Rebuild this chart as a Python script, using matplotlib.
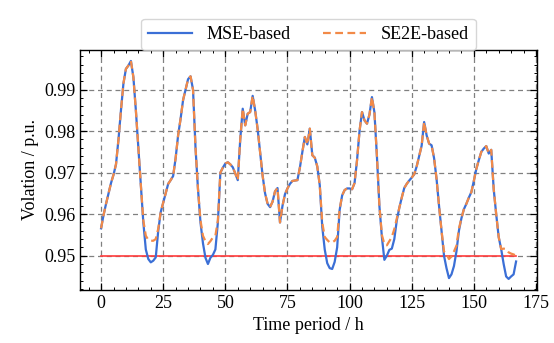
import matplotlib
matplotlib.use("Agg")
import matplotlib.pyplot as plt
from matplotlib.ticker import MultipleLocator
import numpy as np

# Hourly voltage over one week (168 h)
hours = np.arange(168)

mse_based = [
    0.9566, 0.9598, 0.9625, 0.9650, 0.9675, 0.9695, 0.9720, 0.9780, 0.9850, 0.9915,
    0.9950, 0.9958, 0.9969, 0.9930, 0.9850, 0.9760, 0.9670, 0.9580, 0.9515, 0.9492,
    0.9484, 0.9488, 0.9496, 0.9560, 0.9605, 0.9628, 0.9652, 0.9673, 0.9682, 0.9692,
    0.9735, 0.9790, 0.9830, 0.9875, 0.9900, 0.9925, 0.9932, 0.9900, 0.9760, 0.9660,
    0.9580, 0.9530, 0.9495, 0.9480, 0.9495, 0.9502, 0.9515, 0.9580, 0.9700, 0.9712,
    0.9722, 0.9725, 0.9720, 0.9713, 0.9698, 0.9682, 0.9780, 0.9854, 0.9814, 0.9842,
    0.9846, 0.9885, 0.9850, 0.9805, 0.9750, 0.9693, 0.9650, 0.9625, 0.9617, 0.9630,
    0.9655, 0.9663, 0.9580, 0.9620, 0.9648, 0.9662, 0.9673, 0.9680, 0.9681, 0.9682,
    0.9712, 0.9750, 0.9786, 0.9768, 0.9806, 0.9742, 0.9736, 0.9715, 0.9670, 0.9570,
    0.9515, 0.9482, 0.9470, 0.9468, 0.9485, 0.9520, 0.9610, 0.9645, 0.9658, 0.9662,
    0.9662, 0.9660, 0.9675, 0.9730, 0.9800, 0.9846, 0.9826, 0.9818, 0.9840, 0.9882,
    0.9845, 0.9740, 0.9620, 0.9545, 0.9490, 0.9500, 0.9514, 0.9517, 0.9540, 0.9585,
    0.9615, 0.9640, 0.9663, 0.9673, 0.9681, 0.9688, 0.9696, 0.9715, 0.9740, 0.9765,
    0.9822, 0.9790, 0.9770, 0.9766, 0.9735, 0.9685, 0.9620, 0.9560, 0.9500, 0.9470,
    0.9446, 0.9455, 0.9475, 0.9510, 0.9560, 0.9590, 0.9612, 0.9625, 0.9640, 0.9653,
    0.9680, 0.9709, 0.9730, 0.9750, 0.9758, 0.9764, 0.9746, 0.9755, 0.9660, 0.9600,
    0.9545, 0.9516, 0.9480, 0.9450, 0.9444, 0.9450, 0.9455, 0.9486,
]

se2e_based = [
    0.9566, 0.9598, 0.9625, 0.9650, 0.9675, 0.9695, 0.9720, 0.9780, 0.9850, 0.9915,
    0.9950, 0.9958, 0.9969, 0.9930, 0.9850, 0.9760, 0.9670, 0.9585, 0.9548, 0.9538,
    0.9536, 0.9536, 0.9540, 0.9565, 0.9605, 0.9628, 0.9652, 0.9673, 0.9682, 0.9692,
    0.9735, 0.9790, 0.9830, 0.9875, 0.9900, 0.9925, 0.9932, 0.9900, 0.9760, 0.9660,
    0.9585, 0.9548, 0.9535, 0.9528, 0.9535, 0.9544, 0.9548, 0.9585, 0.9700, 0.9712,
    0.9722, 0.9725, 0.9720, 0.9713, 0.9698, 0.9682, 0.9780, 0.9854, 0.9814, 0.9842,
    0.9846, 0.9885, 0.9850, 0.9805, 0.9750, 0.9693, 0.9650, 0.9625, 0.9617, 0.9630,
    0.9655, 0.9663, 0.9580, 0.9620, 0.9648, 0.9662, 0.9673, 0.9680, 0.9681, 0.9682,
    0.9712, 0.9750, 0.9786, 0.9768, 0.9806, 0.9742, 0.9736, 0.9715, 0.9670, 0.9580,
    0.9545, 0.9538, 0.9532, 0.9532, 0.9536, 0.9545, 0.9612, 0.9645, 0.9658, 0.9662,
    0.9662, 0.9660, 0.9675, 0.9730, 0.9800, 0.9846, 0.9826, 0.9818, 0.9840, 0.9882,
    0.9845, 0.9740, 0.9620, 0.9550, 0.9528, 0.9525, 0.9535, 0.9545, 0.9564, 0.9590,
    0.9615, 0.9640, 0.9663, 0.9673, 0.9681, 0.9688, 0.9696, 0.9715, 0.9740, 0.9765,
    0.9822, 0.9790, 0.9770, 0.9766, 0.9735, 0.9685, 0.9620, 0.9560, 0.9510, 0.9504,
    0.9492, 0.9498, 0.9510, 0.9524, 0.9565, 0.9590, 0.9612, 0.9625, 0.9640, 0.9653,
    0.9680, 0.9709, 0.9730, 0.9750, 0.9758, 0.9764, 0.9746, 0.9755, 0.9660, 0.9600,
    0.9545, 0.9516, 0.9517, 0.9516, 0.9508, 0.9505, 0.9503, 0.9500,
]

v_limit = 0.95

plt.rcParams['font.family'] = 'serif'
plt.rcParams['font.serif'] = ['Liberation Serif', 'DejaVu Serif']
plt.rcParams['mathtext.fontset'] = 'stix'

fig = plt.figure(figsize=(5.54, 3.43), dpi=100)
ax = fig.add_axes([0.145, 0.155, 0.824, 0.699])

ax.plot(hours, mse_based, color='#3b6fd6', lw=1.6, label='MSE-based', zorder=3)
ax.plot(hours, se2e_based, color='#f28a48', lw=1.6, ls=(0, (3.5, 2)),
        label='SE2E-based', zorder=4)
ax.plot([hours[0], hours[-1]], [v_limit, v_limit], color='#ff3b3b', lw=1.2, zorder=2)

ax.set_xlabel('Time period / h', fontsize=13)
ax.set_ylabel('Volation / p.u.', fontsize=13)

ax.xaxis.set_major_locator(MultipleLocator(25))
ax.xaxis.set_minor_locator(MultipleLocator(5))
ax.yaxis.set_major_locator(MultipleLocator(0.01))
ax.yaxis.set_minor_locator(MultipleLocator(0.002))
ax.tick_params(which='both', direction='in', top=True, right=True, labelsize=13)
ax.tick_params(which='major', length=5, width=0.9)
ax.tick_params(which='minor', length=2.5, width=0.7)
for sp in ax.spines.values():
    sp.set_linewidth(1.0)

ax.grid(True, which='major', ls=(0, (4, 3)), color='#808080', lw=0.9)
ax.set_axisbelow(True)

leg = ax.legend(loc='lower center', bbox_to_anchor=(0.5, 0.985), ncol=2,
                fontsize=13, frameon=True, fancybox=True, edgecolor='#cccccc',
                handlelength=2.4, columnspacing=1.8, borderaxespad=0.2)

fig.savefig('out.png', dpi=100)
